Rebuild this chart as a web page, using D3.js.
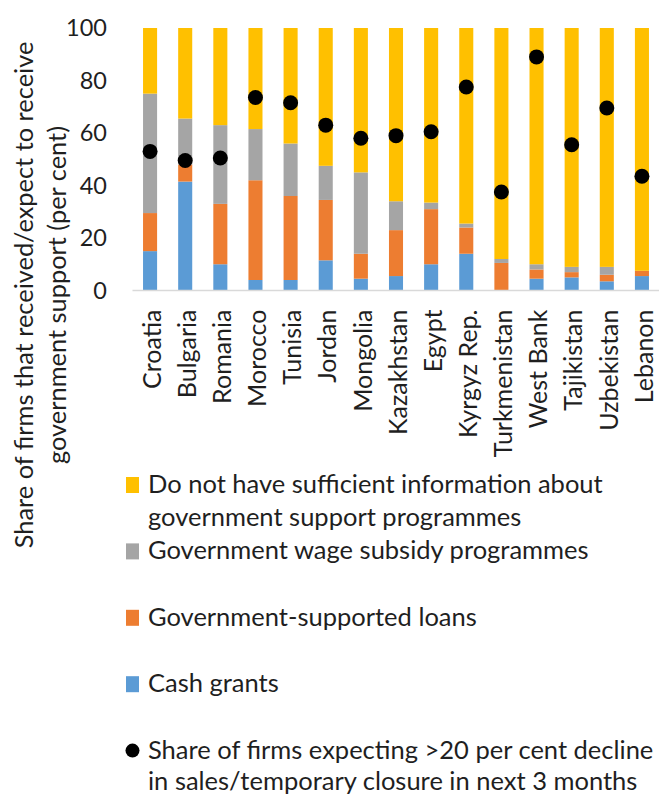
<!DOCTYPE html>
<html>
<head>
<meta charset="utf-8">
<script src="https://cdn.jsdelivr.net/npm/d3@7/dist/d3.min.js"></script>
<style>
  html, body { margin: 0; padding: 0; background: #fff; }
  svg { display: block; font-family: Lato, "Open Sans", sans-serif; }
</style>
</head>
<body>
<svg id="chart" width="659" height="796"></svg>
<script>
// Economies shown on the x axis
const countries = ["Croatia", "Bulgaria", "Romania", "Morocco", "Tunisia", "Jordan",
  "Mongolia", "Kazakhstan", "Egypt", "Kyrgyz Rep.", "Turkmenistan", "West Bank",
  "Tajikistan", "Uzbekistan", "Lebanon"];

// Stacked segments (per cent of firms), bottom to top
const cashGrants   = [15, 41.5, 10, 4, 4, 11.5, 4.5, 5.5, 10, 14, 0, 4.5, 5, 3.5, 5.5];
const loans        = [14.5, 6.5, 23, 38, 32, 23, 9.5, 17.5, 21, 10, 10.5, 3.5, 2, 2.5, 2];
const wageSubsidy  = [45.5, 17.5, 30, 19.5, 20, 13, 31, 11, 2.5, 1.5, 1.5, 2, 2, 3, 0];
const noInfo       = [25, 34.5, 37, 38.5, 44, 52.5, 55, 66, 66.5, 74.5, 88, 90, 91, 91, 92.5];

// Share of firms expecting >20 per cent decline in sales / temporary closure
const expectDecline = [53, 49.5, 50.5, 73.5, 71.5, 63, 58, 59, 60.5, 77.5, 37.5, 89, 55.5, 69.5, 43.5];

const yTicks = [0, 20, 40, 60, 80, 100];

const seriesKeys = ["cash", "loans", "wage", "noinfo"];
const seriesColors = { cash: "#5B9BD5", loans: "#ED7D31", wage: "#A5A5A5", noinfo: "#FFC000" };
const legendLabels = {
  noinfo: ["Do not have sufficient information about", "government support programmes"],
  wage: ["Government wage subsidy programmes"],
  loans: ["Government-supported loans"],
  cash: ["Cash grants"],
  dots: ["Share of firms expecting >20 per cent decline", "in sales/temporary closure in next 3 months"]
};

const rows = countries.map((c, i) => ({
  country: c,
  cash: cashGrants[i],
  loans: loans[i],
  wage: wageSubsidy[i],
  noinfo: noInfo[i],
  decline: expectDecline[i]
}));

const textColor = "#1f1f1f";
const svg = d3.select("#chart");

const x = d3.scaleBand()
  .domain(countries)
  .range([132.5, 659.5])
  .paddingInner(0.6)
  .paddingOuter(0.3);

const y = d3.scaleLinear().domain([0, 100]).range([290.5, 28]);

const stacked = d3.stack().keys(seriesKeys)(rows);

// Stacked bars
svg.append("g")
  .selectAll("g")
  .data(stacked)
  .join("g")
  .attr("fill", d => seriesColors[d.key])
  .selectAll("rect")
  .data(d => d)
  .join("rect")
  .attr("x", d => x(d.data.country))
  .attr("width", x.bandwidth())
  .attr("y", d => y(d[1]))
  .attr("height", d => y(d[0]) - y(d[1]));

// Baseline
svg.append("line")
  .attr("x1", x.range()[0]).attr("x2", x.range()[1])
  .attr("y1", y(0)).attr("y2", y(0))
  .attr("stroke", "#D9D9D9").attr("stroke-width", 1.5);

// Y axis (labels only)
const yAxis = d3.axisLeft(y).tickValues(yTicks).tickSize(0).tickPadding(0);
const yg = svg.append("g").attr("transform", "translate(107,0)").call(yAxis);
yg.select(".domain").remove();
yg.selectAll("text")
  .attr("font-family", "Lato, sans-serif")
  .attr("font-size", 23.5)
  .attr("fill", textColor);

// X axis with rotated category labels
const xAxis = d3.axisBottom(x).tickSize(0).tickPadding(0);
const xg = svg.append("g").attr("transform", `translate(0,${y(0)})`).call(xAxis);
xg.select(".domain").remove();
xg.selectAll("text")
  .attr("font-family", "Lato, sans-serif")
  .attr("font-size", 25)
  .attr("fill", textColor)
  .attr("text-anchor", "end")
  .attr("dy", "0.35em")
  .attr("y", 0)
  .attr("transform", "translate(2,19) rotate(-90)");

// Dots for expected decline
svg.append("g")
  .selectAll("circle")
  .data(rows)
  .join("circle")
  .attr("cx", d => x(d.country) + x.bandwidth() / 2)
  .attr("cy", d => y(d.decline))
  .attr("r", 7.5)
  .attr("fill", "#000");

// Y axis title
const yTitle = svg.append("text")
  .attr("transform", "translate(0,295) rotate(-90)")
  .attr("text-anchor", "middle")
  .attr("font-size", 25.4)
  .attr("fill", textColor);
yTitle.append("tspan").attr("x", 0).attr("y", 33).text("Share of firms that received/expect to receive");
yTitle.append("tspan").attr("x", 0).attr("y", 66).text("government support (per cent)");

// Legend
const lineGap = 33.2;
const legendItems = [
  { key: "noinfo", y: 493, gap: lineGap },
  { key: "wage", y: 493 + 2 * lineGap, gap: lineGap },
  { key: "loans", y: 493 + 4 * lineGap, gap: lineGap },
  { key: "cash", y: 493 + 6 * lineGap, gap: lineGap },
  { key: "dots", y: 493 + 8 * lineGap, gap: 31 }
];
const legend = svg.append("g").attr("font-size", 25.5).attr("fill", textColor);
legendItems.forEach(item => {
  const g = legend.append("g");
  if (item.key === "dots") {
    g.append("circle").attr("cx", 132.5).attr("cy", item.y - 8).attr("r", 7).attr("fill", "#000");
  } else {
    g.append("rect").attr("x", 126).attr("y", item.y - 16).attr("width", 13).attr("height", 16)
      .attr("fill", seriesColors[item.key]);
  }
  const t = g.append("text").attr("x", 148).attr("y", item.y);
  legendLabels[item.key].forEach((line, i) => {
    t.append("tspan").attr("x", 148).attr("dy", i === 0 ? 0 : item.gap).text(line);
  });
});
</script>
</body>
</html>
